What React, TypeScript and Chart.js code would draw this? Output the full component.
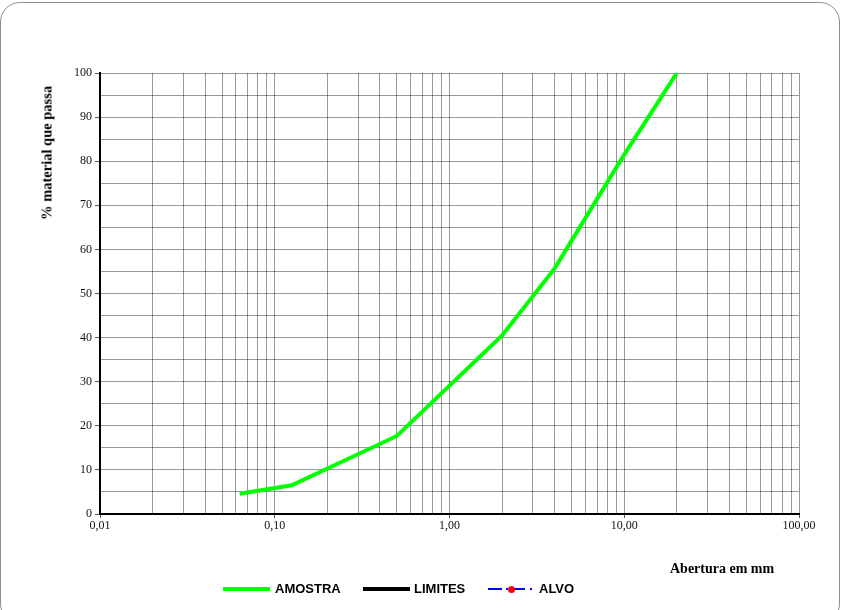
import React, { useEffect, useRef } from "react";
import { Chart, registerables } from "chart.js";

Chart.register(...registerables);

// Sieve openings (mm) and % passing for the sample (AMOSTRA)
const SIEVES_MM = [0.063, 0.125, 0.5, 2, 4, 10, 20];
const PASSING_PCT = [4.6, 6.5, 17.7, 40.5, 55.7, 81.5, 100];

// Axis definitions
const X_DECADES = [0.01, 0.1, 1, 10, 100];
const X_TICK_LABELS = ["0,01", "0,10", "1,00", "10,00", "100,00"];
const X_MULTIPLES = [1, 2, 3, 4, 5, 6, 7, 8, 9];
const Y_MIN = 0;
const Y_MAX = 100;
const Y_GRID_STEP = 5;
const Y_LABEL_STEP = 10;

const LEGEND_ITEMS = ["AMOSTRA", "LIMITES", "ALVO"];

const GRID = "rgba(0,0,0,0.4)";
const TICKC = "#555";

export default function App() {
  const ref = useRef<HTMLCanvasElement | null>(null);

  useEffect(() => {
    const canvas = ref.current;
    if (!canvas) return;
    const xTickValues: number[] = [];
    X_DECADES.forEach((d, i) => {
      if (i === X_DECADES.length - 1) {
        xTickValues.push(d);
      } else {
        X_MULTIPLES.forEach((m) => xTickValues.push(+(d * m).toPrecision(6)));
      }
    });
    const isMajor = (v: number) =>
      X_DECADES.some((d) => Math.abs(v - d) / d < 1e-6);
    const labelFor = (v: number) => {
      const idx = X_DECADES.findIndex((d) => Math.abs(v - d) / d < 1e-6);
      return idx >= 0 ? X_TICK_LABELS[idx] : "";
    };

    const chart = new Chart(canvas, {
      type: "line",
      data: {
        datasets: [
          {
            label: LEGEND_ITEMS[0],
            data: SIEVES_MM.map((x, i) => ({ x, y: PASSING_PCT[i] })),
            borderColor: "#00ff00",
            backgroundColor: "#00ff00",
            borderWidth: 4,
            pointRadius: 0,
            tension: 0,
            fill: false,
          },
        ],
      },
      options: {
        animation: false,
        responsive: false,
        devicePixelRatio: 1,
        layout: { padding: { left: 0, top: 73, right: 43, bottom: 0 } },
        plugins: {
          legend: { display: false },
          tooltip: { enabled: false },
          title: { display: false },
        },
        scales: {
          x: {
            type: "logarithmic",
            min: X_DECADES[0],
            max: X_DECADES[X_DECADES.length - 1],
            afterBuildTicks: (scale: any) => {
              scale.ticks = xTickValues.map((v) => ({ value: v, major: isMajor(v) }));
            },
            afterFit: (scale: any) => {
              scale.height = 96;
            },
            grid: {
              color: GRID,
              lineWidth: 1,
              tickLength: 4,
              tickColor: (ctx: any) =>
                ctx.tick && isMajor(ctx.tick.value) ? TICKC : "rgba(0,0,0,0)",
            },
            border: { color: "#000", width: 2 },
            ticks: {
              autoSkip: false,
              maxRotation: 0,
              minRotation: 0,
              padding: 1,
              color: "#111",
              font: { family: "'Liberation Serif', 'Times New Roman', serif", size: 12 },
              callback: (v: any) => labelFor(Number(v)),
            },
          },
          y: {
            type: "linear",
            min: Y_MIN,
            max: Y_MAX,
            afterFit: (scale: any) => {
              scale.width = 100;
            },
            grid: {
              color: GRID,
              lineWidth: 1,
              tickLength: 5,
              tickColor: (ctx: any) =>
                ctx.tick && ctx.tick.value % Y_LABEL_STEP === 0 ? TICKC : "rgba(0,0,0,0)",
            },
            border: { color: "#000", width: 2 },
            ticks: {
              stepSize: Y_GRID_STEP,
              autoSkip: false,
              padding: 3,
              color: "#111",
              font: { family: "'Liberation Serif', 'Times New Roman', serif", size: 12 },
              callback: (v: any) => (Number(v) % Y_LABEL_STEP === 0 ? String(v) : ""),
            },
          },
        },
      },
    } as any);
    return () => chart.destroy();
  }, []);

  const serifBold: React.CSSProperties = {
    position: "absolute",
    fontFamily: "'Liberation Serif', 'Times New Roman', serif",
    fontWeight: "bold",
    fontSize: 14,
    color: "#000",
    whiteSpace: "nowrap",
    lineHeight: "15px",
  };
  const legendText: React.CSSProperties = {
    position: "absolute",
    fontFamily: "'Liberation Sans', Arial, sans-serif",
    fontWeight: "bold",
    fontSize: 13,
    color: "#000",
    top: 582,
    lineHeight: "14px",
    whiteSpace: "nowrap",
  };

  return (
    <div
      style={{
        position: "absolute",
        left: 0,
        top: 0,
        width: 842,
        height: 610,
        overflow: "hidden",
        background: "#fff",
      }}
    >
      <div
        style={{
          position: "absolute",
          left: 0,
          top: 2,
          width: 838,
          height: 620,
          border: "1px solid #8c8c8c",
          borderRadius: 20,
        }}
      />
      <canvas
        ref={ref}
        width={842}
        height={610}
        style={{ position: "absolute", left: 0, top: 0, display: "block" }}
      />
      <div
        style={{
          ...serifBold,
          fontSize: 14.5,
          left: 47,
          top: 153,
          transform: "translate(-50%, -50%) rotate(-90deg)",
        }}
      >
        % material que passa
      </div>
      <div style={{ ...serifBold, left: 670, top: 561 }}>Abertura em mm</div>

      {/* legend */}
      <div style={{ position: "absolute", left: 223, top: 587, width: 47, height: 4, background: "#00ff00" }} />
      <div style={{ ...legendText, left: 275 }}>{LEGEND_ITEMS[0]}</div>
      <div style={{ position: "absolute", left: 363, top: 587, width: 47, height: 4, background: "#000" }} />
      <div style={{ ...legendText, left: 414 }}>{LEGEND_ITEMS[1]}</div>
      <div style={{ position: "absolute", left: 488, top: 588, width: 14, height: 2, background: "#0000ff" }} />
      <div style={{ position: "absolute", left: 506, top: 588, width: 2, height: 2, background: "#0000ff" }} />
      <div style={{ position: "absolute", left: 514, top: 588, width: 11, height: 2, background: "#0000ff" }} />
      <div style={{ position: "absolute", left: 530, top: 588, width: 2, height: 2, background: "#0000ff" }} />
      <div
        style={{
          position: "absolute",
          left: 508,
          top: 586,
          width: 7,
          height: 7,
          borderRadius: "50%",
          background: "#ff0000",
        }}
      />
      <div style={{ ...legendText, left: 539 }}>{LEGEND_ITEMS[2]}</div>
    </div>
  );
}
